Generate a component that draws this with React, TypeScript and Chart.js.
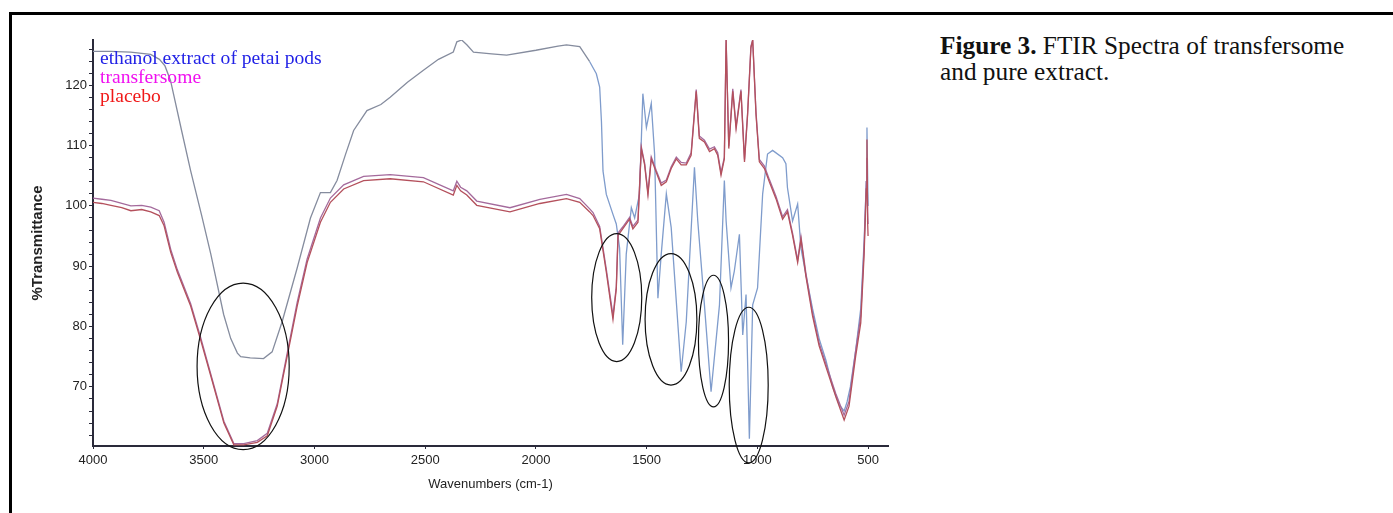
import React, { useEffect, useRef } from "react";
import { Chart, registerables } from "chart.js";

Chart.register(...registerables);

// ---------- data ----------
const extractWavenumber = [
  4000, 3920, 3830, 3740, 3700, 3675, 3650, 3600, 3559, 3510, 3468, 3410, 3378, 3348, 3333, 3290, 3230, 3191,
  3146, 3078, 3018, 2973, 2928, 2898, 2860, 2823, 2763, 2700, 2658, 2580, 2508, 2440, 2373, 2357, 2335, 2312,
  2282, 2200, 2132, 2000, 1900, 1862, 1802, 1757, 1727, 1712, 1704, 1697, 1682, 1652, 1637, 1622, 1608, 1592,
  1569, 1554, 1532, 1517, 1501, 1479, 1464, 1449, 1434, 1411, 1389, 1344, 1321, 1284, 1269, 1239, 1209, 1171,
  1149, 1141, 1119, 1104, 1081, 1066, 1051, 1036, 1021, 999, 976, 954, 931, 886, 871, 864, 841, 818, 803, 781,
  751, 721, 691, 660, 630, 608, 595, 580, 556, 533, 518, 508, 505, 502, 500,
];
const extractTransmittance = [
  125.6, 125.6, 125.5, 125.1, 124.3, 123.2, 120.8, 112.5, 105.8, 98.5, 92.0, 82.0, 78.0, 75.6, 75.0, 74.8, 74.7, 75.8,
  80.8, 89.7, 98.0, 102.2, 102.2, 104.2, 108.5, 112.5, 115.8, 116.8, 118.0, 120.5, 122.5, 124.3, 125.5, 127.2, 127.5, 126.7,
  125.5, 125.2, 125.0, 125.8, 126.5, 126.7, 126.4, 123.9, 121.9, 119.7, 114.0, 105.8, 101.9, 98.6, 97.0, 93.0, 77.0, 92.0,
  99.7, 98.0, 102.0, 118.6, 113.0, 117.0, 108.6, 84.7, 92.0, 102.0, 96.4, 72.5, 80.8, 106.4, 97.5, 83.6, 69.2, 83.6,
  104.2, 97.5, 86.4, 89.2, 95.3, 78.6, 85.3, 61.4, 83.6, 86.4, 102.0, 108.6, 109.2, 108.0, 107.0, 103.0, 97.5, 100.3, 93.0, 88.6,
  83.0, 78.0, 74.5, 70.0, 67.0, 66.0, 67.5, 70.0, 76.0, 83.0, 94.0, 104.0, 113.0, 105.0, 100.0,
];

const pairWavenumber = [
  4000, 3960, 3919, 3870, 3829, 3780, 3739, 3701, 3679, 3649, 3619, 3559, 3514, 3468, 3409, 3364, 3319, 3258,
  3213, 3168, 3123, 3078, 3033, 2973, 2928, 2868, 2778, 2658, 2508, 2373, 2357, 2340, 2312, 2267, 2117, 1982,
  1862, 1802, 1757, 1742, 1712, 1682, 1652, 1637, 1629, 1608, 1577, 1562, 1539, 1524, 1509, 1494, 1479, 1457,
  1434, 1411, 1389, 1366, 1344, 1321, 1299, 1276, 1262, 1239, 1216, 1194, 1179, 1164, 1149, 1141, 1129, 1111,
  1096, 1074, 1058, 1044, 1029, 1021, 1006, 991, 968, 946, 916, 886, 864, 841, 818, 803, 781, 751, 721, 691,
  646, 608, 586, 556, 533, 518, 508, 505, 502, 500,
];
const transfersomeTransmittance = [
  101.3, 101.1, 100.9, 100.4, 100.0, 100.1, 99.8, 99.2, 97.3, 92.8, 89.4, 83.8, 78.2, 72.1, 64.3, 60.6, 60.6, 61.1,
  62.3, 67.2, 75.6, 84.0, 91.2, 98.0, 101.3, 103.5, 104.9, 105.2, 104.7, 102.5, 104.1, 103.1, 102.5, 100.8, 99.7, 101.1,
  101.9, 101.2, 99.5, 98.9, 96.6, 89.5, 81.8, 86.6, 95.5, 96.5, 98.1, 96.6, 97.7, 109.8, 107.1, 102.2, 108.1, 105.9,
  103.8, 104.3, 106.5, 108.1, 107.2, 107.1, 108.8, 119.3, 111.6, 110.9, 109.4, 109.8, 108.8, 105.5, 108.1, 127.5, 109.9, 119.4,
  113.2, 119.3, 107.7, 115.4, 126.5, 127.5, 115.5, 107.7, 106.6, 104.4, 101.6, 98.2, 99.4, 95.5, 91.0, 94.9, 88.9, 82.3, 77.3, 73.9,
  68.9, 65.3, 67.6, 76.0, 81.8, 93.0, 104.0, 108.0, 99.0, 97.0,
];
const placeboTransmittance = [
  100.6, 100.4, 100.1, 99.7, 99.2, 99.4, 99.0, 98.4, 96.7, 92.3, 89.0, 83.4, 77.8, 71.8, 64.0, 60.4, 60.4, 60.8,
  61.9, 66.8, 75.1, 83.4, 90.6, 97.3, 100.6, 102.8, 104.2, 104.5, 104.0, 101.8, 103.4, 102.5, 101.8, 100.1, 99.0, 100.4,
  101.2, 100.6, 99.0, 98.4, 96.2, 89.0, 81.2, 86.2, 95.1, 96.2, 97.8, 96.2, 97.3, 109.5, 106.8, 101.8, 107.8, 105.6,
  103.4, 104.0, 106.2, 107.8, 106.8, 106.8, 108.4, 119.0, 111.2, 110.6, 109.0, 109.5, 108.4, 105.1, 107.8, 127.5, 109.5, 119.0,
  112.8, 119.0, 107.3, 115.1, 126.2, 127.5, 115.1, 107.3, 106.2, 104.0, 101.2, 97.8, 99.0, 95.1, 90.6, 94.5, 88.4, 81.8, 76.8, 73.4,
  68.4, 64.5, 66.8, 75.1, 80.6, 91.8, 102.8, 111.0, 97.3, 95.0,
];

const seriesLabels = ["ethanol extract of petai pods", "transfersome", "placebo"];
const xTickValues = [4000, 3500, 3000, 2500, 2000, 1500, 1000, 500];
const yLabelValues = [70, 80, 90, 100, 110, 120];
const yMinorStep = 2;

// highlighted band regions (centre wavenumber, centre %T, half-width, half-height in data units)
const ellipseWavenumber = [3322, 1635, 1390, 1198, 1039];
const ellipseTransmittance = [73.4, 84.8, 81.2, 77.6, 70.3];
const ellipseHalfWidth = [208, 113, 117, 68, 88];
const ellipseHalfHeight = [13.8, 10.6, 10.9, 10.9, 12.9];

// ---------- styles ----------
const extractHighColor = "#858c9e";
const extractFingerprintColor = "#7f9ccc";
const fingerprintStart = 1780;
const lineColors = ["#8290b0", "#a46a9c", "#b4505c"];
const legendColors = ["#2222e6", "#f010f0", "#f01818"];

function hasFont(name: string): boolean {
  const c = document.createElement("canvas").getContext("2d");
  if (!c) return false;
  const s = "Wavenumbers 4000 (cm-1) %Transmittance";
  c.font = "40px monospace";
  const a = c.measureText(s).width;
  c.font = `40px "${name}", monospace`;
  const b = c.measureText(s).width;
  return Math.abs(a - b) > 0.5;
}

const legendPlugin = {
  id: "spectraLegend",
  afterDatasetsDraw(chart: any) {
    const { ctx, chartArea } = chart;
    ctx.save();
    ctx.font = '19px "Liberation Serif", "Times New Roman", serif';
    ctx.textBaseline = "alphabetic";
    ctx.textAlign = "left";
    const w = ctx.measureText(chart.data.datasets[0].label).width;
    const sx = 221.7 / w;
    chart.data.datasets.forEach((ds: any, i: number) => {
      ctx.save();
      ctx.translate(chartArea.left + 7, chartArea.top + 23.5 + i * 19);
      ctx.scale(sx, 1);
      ctx.fillStyle = legendColors[i];
      ctx.fillText(ds.label, 0, 0);
      ctx.restore();
    });
    ctx.restore();
  },
};

const ellipsePlugin = {
  id: "bandEllipses",
  afterDraw(chart: any) {
    const { ctx } = chart;
    const xs = chart.scales.x;
    const ys = chart.scales.y;
    ctx.save();
    ctx.strokeStyle = "#111";
    ctx.lineWidth = 1.2;
    ellipseWavenumber.forEach((wn, i) => {
      const cx = xs.getPixelForValue(wn);
      const cy = ys.getPixelForValue(ellipseTransmittance[i]);
      const rx = Math.abs(xs.getPixelForValue(wn + ellipseHalfWidth[i]) - cx);
      const ry = Math.abs(ys.getPixelForValue(ellipseTransmittance[i] + ellipseHalfHeight[i]) - cy);
      ctx.beginPath();
      ctx.ellipse(cx, cy, rx, ry, 0, 0, Math.PI * 2);
      ctx.stroke();
    });
    ctx.restore();
  },
};

export default function App() {
  const canvasRef = useRef<HTMLCanvasElement>(null);

  useEffect(() => {
    if (!canvasRef.current) return;
    const narrow = hasFont("Liberation Sans Narrow");
    const axisFamily = narrow
      ? '"Liberation Sans Narrow", "Liberation Sans", Arial, sans-serif'
      : '"Liberation Sans", Arial, sans-serif';
    const axisSize = narrow ? 15 : 13;
    const axisColor = "#2a2a3a";

    const yMinorTicks: number[] = [];
    for (let v = 62; v <= 126; v += yMinorStep) yMinorTicks.push(v);

    const chart = new Chart(canvasRef.current, {
      type: "line",
      data: {
        datasets: [
          {
            label: seriesLabels[0],
            data: extractWavenumber.map((x, i) => ({ x, y: extractTransmittance[i] })),
            borderColor: lineColors[0],
            segment: {
              borderColor: (c: any) => (c.p0.parsed.x <= fingerprintStart ? extractFingerprintColor : extractHighColor),
            },
            borderWidth: 1.3,
            pointRadius: 0,
            tension: 0,
            order: 3,
          },
          {
            label: seriesLabels[1],
            data: pairWavenumber.map((x, i) => ({ x, y: transfersomeTransmittance[i] })),
            borderColor: lineColors[1],
            borderWidth: 1.3,
            pointRadius: 0,
            tension: 0,
            order: 2,
          },
          {
            label: seriesLabels[2],
            data: pairWavenumber.map((x, i) => ({ x, y: placeboTransmittance[i] })),
            borderColor: lineColors[2],
            borderWidth: 1.3,
            pointRadius: 0,
            tension: 0,
            order: 1,
          },
        ],
      },
      options: {
        animation: false,
        responsive: true,
        maintainAspectRatio: false,
        layout: { padding: { top: 40, right: 12, left: 0, bottom: 0 } },
        plugins: { legend: { display: false }, tooltip: { enabled: false } },
        scales: {
          x: {
            type: "linear",
            reverse: true,
            min: 410,
            max: 4000,
            bounds: "data",
            afterBuildTicks: (s: any) => {
              s.ticks = xTickValues.map((v) => ({ value: v }));
            },
            afterFit: (s: any) => {
              s.height = 67;
            },
            ticks: {
              autoSkip: false,
              maxRotation: 0,
              padding: 4,
              color: "#222",
              font: { family: axisFamily, size: axisSize },
              callback: (v: any) => String(v),
            },
            grid: { drawOnChartArea: false, drawTicks: true, tickLength: 3, color: axisColor },
            border: { display: true, color: axisColor, width: 2 },
            title: {
              display: true,
              text: "Wavenumbers (cm-1)",
              color: "#222",
              font: { family: axisFamily, size: axisSize },
              padding: { top: 0, bottom: 21 },
            },
          },
          y: {
            type: "linear",
            min: 60.2,
            max: 127.5,
            bounds: "data",
            afterBuildTicks: (s: any) => {
              s.ticks = yMinorTicks.map((v) => ({ value: v }));
            },
            afterFit: (s: any) => {
              s.width = 93;
            },
            ticks: {
              autoSkip: false,
              padding: 2,
              color: "#222",
              font: { family: axisFamily, size: axisSize },
              callback: (v: any) => (yLabelValues.includes(Number(v)) ? String(v) : ""),
            },
            grid: { drawOnChartArea: false, drawTicks: true, tickLength: 4, color: axisColor },
            border: { display: true, color: axisColor, width: 2 },
            title: {
              display: true,
              text: "%Transmittance",
              color: "#222",
              font: { family: '"Liberation Sans", Arial, sans-serif', size: 15, weight: "bold" },
              padding: { top: 28.7, bottom: 0 },
            },
          },
        },
      },
      plugins: [legendPlugin, ellipsePlugin],
    });
    return () => chart.destroy();
  }, []);

  return (
    <div style={{ position: "fixed", left: 0, top: 0, width: 1393, height: 513, overflow: "hidden", background: "#fff" }}>
      <div
        style={{
          position: "absolute",
          left: 9,
          top: 12,
          right: 0,
          bottom: 0,
          borderTop: "3px solid #000",
          borderLeft: "3px solid #000",
        }}
      />
      <div style={{ position: "absolute", left: 0, top: 0, width: 900, height: 513 }}>
        <canvas ref={canvasRef} />
      </div>
      <div
        style={{
          position: "absolute",
          left: 940,
          top: 31.5,
          fontFamily: '"Liberation Serif", "Times New Roman", serif',
          fontSize: 25.3,
          lineHeight: "26.7px",
          color: "#111",
          whiteSpace: "nowrap",
        }}
      >
        <b>Figure 3.</b> FTIR Spectra of transfersome
        <br />
        and pure extract.
      </div>
    </div>
  );
}
